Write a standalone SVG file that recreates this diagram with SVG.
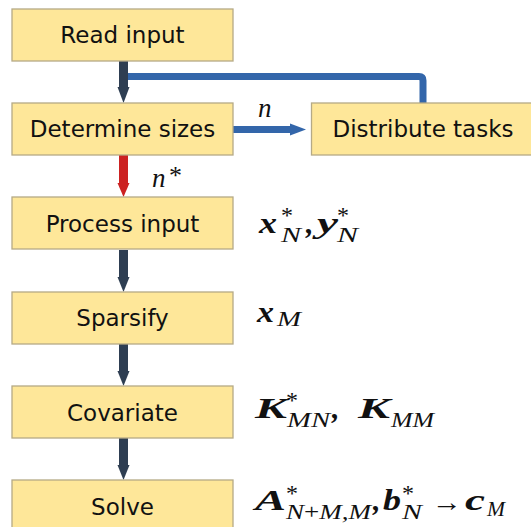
<svg xmlns="http://www.w3.org/2000/svg" width="531" height="527" viewBox="0 0 531 527">
<style>
.box{fill:#fee799;stroke:#b5aa86;stroke-width:1.3}
.lbl{font-family:"DejaVu Sans",sans-serif;font-size:23px;fill:#111;text-anchor:middle}
.m{font-family:"Liberation Serif","DejaVu Serif",serif;fill:#111}
.mb{font-weight:bold;font-style:italic;font-size:30px}
.mi{font-style:italic;font-size:21px}
.ms{font-size:24px}
.dark{stroke:#2e3e52;fill:none}
.blue{stroke:#3366aa;fill:none}
</style>
<rect width="531" height="527" fill="#fff"/>
<g id="connectors">
  <path class="blue" d="M127 76.5 H419 Q423 76.5 423 80.5 V104" stroke-width="7"/>
  <line class="dark" x1="123.5" y1="61" x2="123.5" y2="88" stroke-width="9"/>
  <polygon points="117.5,87 129.5,87 123.5,103" fill="#2e3e52"/>
  <line class="blue" x1="232" y1="129.5" x2="291" y2="129.5" stroke-width="7"/>
  <polygon points="290,123.5 290,135.5 306,129.5" fill="#3366aa"/>
  <line x1="123.5" y1="155" x2="123.5" y2="184" stroke="#cc2222" stroke-width="9"/>
  <polygon points="117.5,183 129.5,183 123.5,197" fill="#cc2222"/>
  <line class="dark" x1="123.5" y1="250" x2="123.5" y2="278" stroke-width="9"/>
  <polygon points="117.5,277 129.5,277 123.5,292" fill="#2e3e52"/>
  <line class="dark" x1="123.5" y1="344" x2="123.5" y2="372" stroke-width="9"/>
  <polygon points="117.5,371 129.5,371 123.5,386" fill="#2e3e52"/>
  <line class="dark" x1="123.5" y1="438" x2="123.5" y2="466" stroke-width="9"/>
  <polygon points="117.5,465 129.5,465 123.5,480" fill="#2e3e52"/>
  <text class="m" x="258" y="117" font-style="italic" font-size="27">n</text>
  <text class="m" x="152" y="187" font-style="italic" font-size="27">n</text>
  <text class="m" x="169" y="184" font-size="26">*</text>
</g>
<g id="read"><rect class="box" x="12" y="9" width="221" height="52"/><text class="lbl" x="122.5" y="43">Read input</text></g>
<g id="determine"><rect class="box" x="12" y="103" width="221" height="52"/><text class="lbl" x="122.5" y="137">Determine sizes</text></g>
<g id="distribute"><rect class="box" x="311.5" y="103" width="230" height="52"/><text class="lbl" x="423" y="137">Distribute tasks</text></g>
<g id="process"><rect class="box" x="12" y="197" width="221" height="52"/><text class="lbl" x="122.5" y="232">Process input</text></g>
<g id="sparsify"><rect class="box" x="12" y="292" width="221" height="52"/><text class="lbl" x="122.5" y="326">Sparsify</text></g>
<g id="covariate"><rect class="box" x="12" y="386" width="221" height="52"/><text class="lbl" x="122.5" y="421">Covariate</text></g>
<g id="solve"><rect class="box" x="12" y="480" width="221" height="52"/><text class="lbl" x="122.5" y="515">Solve</text></g>
<g id="math" class="m">
  <text class="mb" x="259" y="233" textLength="18" lengthAdjust="spacingAndGlyphs">x</text>
  <text class="ms" x="281" y="223">*</text>
  <text class="mi" x="281" y="242" textLength="20" lengthAdjust="spacingAndGlyphs">N</text>
  <text class="mb" x="306" y="233">,</text>
  <text class="mb" x="317" y="233" textLength="21" lengthAdjust="spacingAndGlyphs">y</text>
  <text class="ms" x="337" y="223">*</text>
  <text class="mi" x="337" y="242" textLength="21" lengthAdjust="spacingAndGlyphs">N</text>

  <text class="mb" x="257" y="322" textLength="17" lengthAdjust="spacingAndGlyphs">x</text>
  <text class="mi" x="277" y="326" textLength="24" lengthAdjust="spacingAndGlyphs">M</text>

  <text class="mb" x="255" y="418" textLength="32" lengthAdjust="spacingAndGlyphs">K</text>
  <text class="ms" x="286" y="408">*</text>
  <text class="mi" x="287" y="427" textLength="43" lengthAdjust="spacingAndGlyphs">MN</text>
  <text class="mb" x="332" y="418">,</text>
  <text class="mb" x="358" y="418" textLength="32" lengthAdjust="spacingAndGlyphs">K</text>
  <text class="mi" x="391" y="427" textLength="43" lengthAdjust="spacingAndGlyphs">MM</text>

  <text class="mb" x="255" y="510" textLength="31" lengthAdjust="spacingAndGlyphs">A</text>
  <text class="ms" x="286" y="501">*</text>
  <text class="mi" x="286" y="519" textLength="85" lengthAdjust="spacingAndGlyphs">N<tspan font-style="normal">+</tspan>M,M</text>
  <text class="mb" x="373" y="510">,</text>
  <text class="mb" x="383" y="510" textLength="18" lengthAdjust="spacingAndGlyphs">b</text>
  <text class="ms" x="402" y="501">*</text>
  <text class="mi" x="402" y="519" textLength="20" lengthAdjust="spacingAndGlyphs">N</text>
  <text x="432" y="511" font-size="26" textLength="30" lengthAdjust="spacingAndGlyphs">→</text>
  <text class="mb" x="465" y="510" textLength="20" lengthAdjust="spacingAndGlyphs">c</text>
  <text class="mi" x="487" y="516" textLength="18" lengthAdjust="spacingAndGlyphs">M</text>
</g>
</svg>
